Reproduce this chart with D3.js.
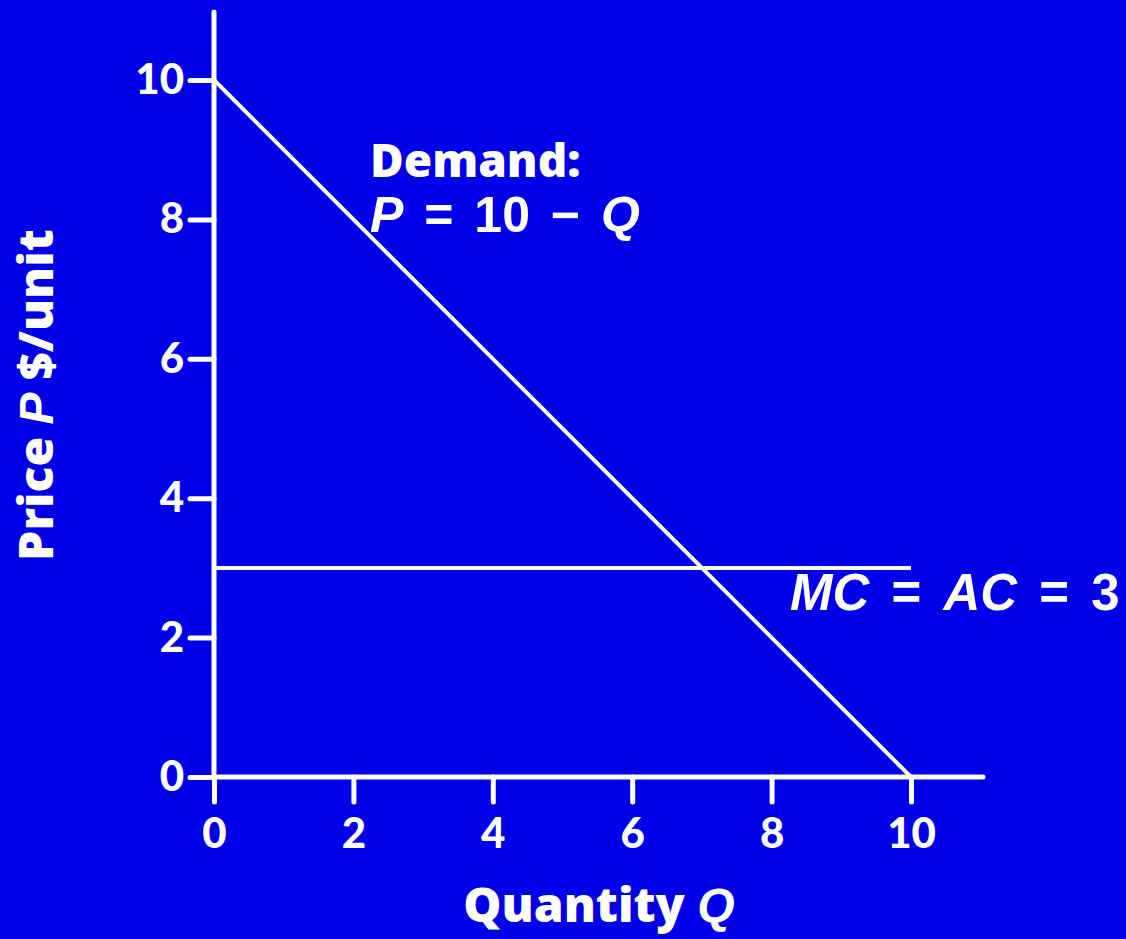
<!DOCTYPE html>
<html><head><meta charset="utf-8">
<script src="https://cdn.jsdelivr.net/npm/d3@7"></script>
<style>html,body{margin:0;padding:0;background:#0000e8;}svg{display:block;}</style>
</head><body>
<script>
const xTicks = [0, 2, 4, 6, 8, 10];
const yTicks = [0, 2, 4, 6, 8, 10];
const demandQ = [0, 10];
const demandP = [10, 0];
const mcQ = [0, 10];
const mcP = [3, 3];

const W = 1126, H = 939;
const svg = d3.select("body").append("svg").attr("width", W).attr("height", H);
svg.append("rect").attr("width", W).attr("height", H).attr("fill", "#0000e8");

const x = d3.scaleLinear().domain([0, 10]).range([214, 911]);
const y = d3.scaleLinear().domain([0, 10]).range([777, 80]);

const white = "#ffffff";
const tickFont = "Lato, 'Open Sans', sans-serif";
const labFont = "'Open Sans', Lato, sans-serif";

// axes lines
svg.append("line").attr("x1", x(0)).attr("x2", x(0)).attr("y1", 12).attr("y2", y(0))
  .attr("stroke", white).attr("stroke-width", 5).attr("stroke-linecap", "round");
svg.append("line").attr("x1", x(0)).attr("x2", 983).attr("y1", y(0)).attr("y2", y(0))
  .attr("stroke", white).attr("stroke-width", 5).attr("stroke-linecap", "round");

// x axis
const xAxis = d3.axisBottom(x).tickValues(xTicks).tickSize(25).tickPadding(16).tickFormat(d3.format("d"));
const gx = svg.append("g").attr("transform", `translate(0,${y(0)})`).call(xAxis);
gx.select(".domain").remove();
gx.selectAll(".tick line").attr("stroke", white).attr("stroke-width", 5).attr("stroke-linecap", "round");
gx.selectAll(".tick text").attr("fill", white).attr("font-family", tickFont).attr("font-weight", "900")
  .attr("font-size", 42);

// y axis
const yAxis = d3.axisLeft(y).tickValues(yTicks).tickSize(24).tickPadding(6).tickFormat(d3.format("d"));
const gy = svg.append("g").attr("transform", `translate(${x(0)},0)`).call(yAxis);
gy.select(".domain").remove();
gy.selectAll(".tick line").attr("stroke", white).attr("stroke-width", 5).attr("stroke-linecap", "round");
gy.selectAll(".tick text").attr("fill", white).attr("font-family", tickFont).attr("font-weight", "900")
  .attr("font-size", 42);

// lines
const line = d3.line().x(d => x(d[0])).y(d => y(d[1]));
svg.append("path").datum(demandQ.map((q, i) => [q, demandP[i]])).attr("d", line)
  .attr("stroke", white).attr("stroke-width", 4).attr("fill", "none");
svg.append("path").datum(mcQ.map((q, i) => [q, mcP[i]])).attr("d", line)
  .attr("stroke", white).attr("stroke-width", 4).attr("fill", "none");

// labels
const arial = "'Liberation Sans', Arial, sans-serif";
svg.append("text").attr("x", 370).attr("y", 177).attr("fill", white)
  .attr("font-family", labFont).attr("font-weight", "800").attr("font-size", 46).text("Demand:");

const eq = svg.append("text").attr("x", 370).attr("y", 232).attr("fill", white)
  .attr("font-family", arial).attr("font-weight", "bold").attr("font-size", 50).attr("word-spacing", 7);
eq.append("tspan").attr("font-style", "italic").text("P");
eq.append("tspan").text(" = 10 − ");
eq.append("tspan").attr("font-style", "italic").text("Q");

const mc = svg.append("text").attr("x", 790).attr("y", 610).attr("fill", white)
  .attr("font-family", arial).attr("font-weight", "bold").attr("font-size", 51).attr("word-spacing", 8);
mc.append("tspan").attr("font-style", "italic").text("MC");
mc.append("tspan").text(" = ");
mc.append("tspan").attr("font-style", "italic").text("AC");
mc.append("tspan").text(" = 3");

// axis titles
const xt = svg.append("text").attr("x", 599).attr("y", 922).attr("text-anchor", "middle").attr("fill", white)
  .attr("font-family", labFont).attr("font-weight", "800").attr("font-size", 48);
xt.append("tspan").text("Quantity ");
xt.append("tspan").attr("font-family", arial).attr("font-style", "italic").attr("font-weight", "bold").text("Q");

const yt = svg.append("text").attr("transform", "translate(53,395) rotate(-90)").attr("text-anchor", "middle").attr("fill", white)
  .attr("font-family", labFont).attr("font-weight", "800").attr("font-size", 48);
yt.append("tspan").text("Price ");
yt.append("tspan").attr("font-family", arial).attr("font-style", "italic").attr("font-weight", "bold").text("P");
yt.append("tspan").text(" $/unit");
</script>
</body></html>
